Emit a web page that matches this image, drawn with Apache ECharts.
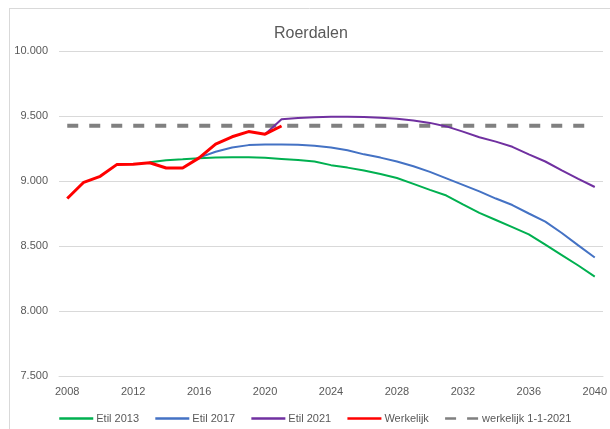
<!DOCTYPE html>
<html>
<head>
<meta charset="utf-8">
<script src="https://cdn.jsdelivr.net/npm/echarts@6/dist/echarts.min.js"></script>
<style>
  html, body { margin: 0; padding: 0; background: #fff; }
  #chart { width: 610px; height: 429px; }
</style>
</head>
<body>
<div id="chart"></div>
<script>
var years = ['2008','2009','2010','2011','2012','2013','2014','2015','2016','2017','2018',
             '2019','2020','2021','2022','2023','2024','2025','2026','2027','2028','2029',
             '2030','2031','2032','2033','2034','2035','2036','2037','2038','2039','2040'];

// Etil 2013 prognose (vanaf 2013)
var etil2013 = [null, null, null, null, null,
    9145, 9160, 9167, 9175, 9180, 9182, 9182, 9178, 9170, 9162,
    9150, 9122, 9103, 9080, 9054, 9023, 8978, 8932, 8888, 8820,
    8755, 8700, 8645, 8590, 8510, 8430, 8350, 8265];

// Etil 2017 prognose (vanaf 2016)
var etil2017 = [null, null, null, null, null, null, null, null,
    9180, 9225, 9257, 9276, 9280, 9280, 9278,
    9272, 9258, 9236, 9205, 9180, 9150, 9113, 9070, 9020, 8970,
    8920, 8865, 8815, 8750, 8688, 8600, 8505, 8412];

// Etil 2021 prognose (vanaf 2020)
var etil2021 = [null, null, null, null, null, null, null, null, null, null, null, null,
    9360, 9475, 9485, 9490, 9495, 9495, 9492, 9487, 9478, 9465,
    9447, 9420, 9380, 9337, 9303, 9263, 9205, 9150, 9082, 9017, 8954];

// werkelijk aantal inwoners
var werkelijk = [8865, 8990, 9036, 9126, 9128, 9140, 9100, 9100, 9178, 9283, 9340, 9380, 9360, 9423];

var peil2021 = 9425;   // werkelijk 1-1-2021

var yTicks = { min: 7500, max: 10000, interval: 500 };

function fmtNum(v) {
    var s = String(Math.round(v));
    return s.length > 3 ? s.slice(0, s.length - 3) + '.' + s.slice(-3) : s;
}

var chart = echarts.init(document.getElementById('chart'));

var txt = '#595959';

var opts = {
    animation: false,
    title: {
        text: 'Roerdalen',
        left: 269,
        top: 21,
        textStyle: { color: txt, fontSize: 16, fontWeight: 'normal', fontFamily: 'Liberation Sans' }
    },
    graphic: [
        { type: 'line', shape: { x1: 9.5, y1: 8, x2: 9.5, y2: 429 }, style: { stroke: '#d9d9d9', lineWidth: 1 } },
        { type: 'line', shape: { x1: 9, y1: 8.5, x2: 610, y2: 8.5 }, style: { stroke: '#d9d9d9', lineWidth: 1 } }
    ],
    grid: { left: 59, right: 7, top: 51, bottom: 53, containLabel: false },
    legend: {
        top: 408,
        left: 53,
        itemWidth: 34,
        itemHeight: 10,
        itemGap: 15,
        itemStyle: { opacity: 0 },
        lineStyle: { width: 2.5 },
        textStyle: { color: txt, fontSize: 11, fontFamily: 'Liberation Sans', padding: [0, 0, 0, -2] },
        data: ['Etil 2013', 'Etil 2017', 'Etil 2021', 'Werkelijk', 'werkelijk 1-1-2021']
    },
    xAxis: {
        type: 'category',
        data: years,
        boundaryGap: true,
        axisLine: { lineStyle: { color: '#d9d9d9' } },
        axisTick: { show: false },
        axisLabel: { interval: 3, color: txt, fontSize: 11, margin: 10, fontFamily: 'Liberation Sans' }
    },
    yAxis: {
        type: 'value',
        min: yTicks.min,
        max: yTicks.max,
        interval: yTicks.interval,
        axisLine: { show: false },
        axisTick: { show: false },
        splitLine: { lineStyle: { color: '#d9d9d9' } },
        axisLabel: { color: txt, fontSize: 11, margin: 11, formatter: fmtNum, fontFamily: 'Liberation Sans' }
    },
    series: [
        {
            name: 'werkelijk 1-1-2021',
            type: 'line',
            symbol: 'none',
            data: years.map(function () { return peil2021; }),
            lineStyle: { color: '#808080', width: 4, type: [11, 11] },
            itemStyle: { color: '#808080' },
            z: 1
        },
        {
            name: 'Etil 2013',
            type: 'line',
            symbol: 'none',
            data: etil2013,
            lineStyle: { color: '#00b050', width: 2 },
            itemStyle: { color: '#00b050' },
            z: 2
        },
        {
            name: 'Etil 2017',
            type: 'line',
            symbol: 'none',
            data: etil2017,
            lineStyle: { color: '#4472c4', width: 2 },
            itemStyle: { color: '#4472c4' },
            z: 2
        },
        {
            name: 'Etil 2021',
            type: 'line',
            symbol: 'none',
            data: etil2021,
            lineStyle: { color: '#7030a0', width: 2 },
            itemStyle: { color: '#7030a0' },
            z: 2
        },
        {
            name: 'Werkelijk',
            type: 'line',
            symbol: 'none',
            data: werkelijk,
            lineStyle: { color: '#ff0000', width: 3 },
            itemStyle: { color: '#ff0000' },
            z: 3
        }
    ]
};

chart.setOption(opts);
</script>
</body>
</html>
